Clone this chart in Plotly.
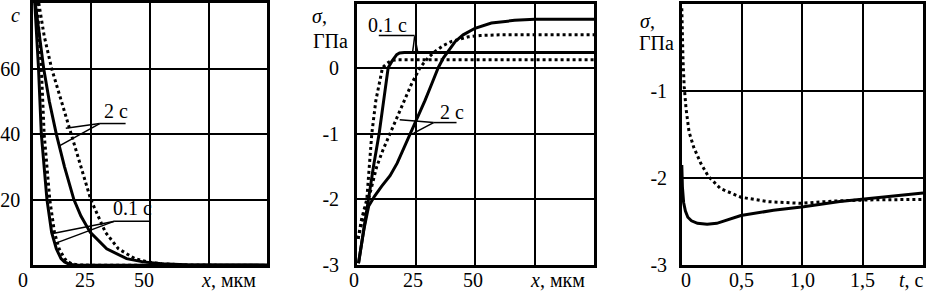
import plotly.graph_objects as go

W, H = 931, 302

# ---------------- data ----------------
# Left panel: concentration c vs depth x (мкм)
c01_solid_x = [0.8, 1.6, 2.4, 3.6, 6.0, 8.0, 10.0, 12.0, 13.5, 15.5, 18.0, 22.0, 100.0]
c01_solid_y = [80, 70, 60, 40, 20, 10, 5, 2, 1, 0.3, 0.05, 0, 0]
c01_dot_x = [1.8, 2.8, 3.6, 4.8, 7.2, 9.2, 11.2, 13.5, 15.0, 17.0, 20.0, 24.0, 100.0]
c01_dot_y = [80, 70, 60, 40, 20, 10, 5, 2, 1, 0.3, 0.05, 0, 0]
c2_solid_x = [1.0, 2.8, 4.6, 7.0, 10.0, 13.5, 17.5, 20.5, 24.5, 31.5, 40.0, 47.0, 55.0, 65.0, 80.0, 100.0]
c2_solid_y = [80, 70, 60, 50, 40, 30, 20, 15, 10, 5, 2, 1, 0.4, 0.1, 0, 0]
c2_dot_x = [2.5, 4.8, 8.0, 12.2, 16.5, 20.5, 24.7, 31.0, 36.5, 43.5, 49.0, 55.0, 65.0, 80.0, 100.0]
c2_dot_y = [80, 70, 60, 50, 40, 30, 20, 10, 5, 2, 1, 0.4, 0.1, 0, 0]

# Middle panel: stress sigma (ГПа) vs depth x (мкм)
s01_solid_x = [0.7, 3.0, 4.9, 7.0, 9.4, 11.3, 13.2, 14.8, 15.8, 16.8, 18.0, 20.0, 100.0]
s01_solid_y = [-2.97, -2.4, -2.0, -1.5, -1.0, -0.5, 0.0, 0.1, 0.16, 0.2, 0.225, 0.23, 0.23]
s01_dot_x = [0.5, 2.0, 4.2, 5.3, 6.3, 8.0, 10.8, 12.8, 14.5, 16.5, 19.0, 100.0]
s01_dot_y = [-2.6, -2.3, -2.0, -1.5, -1.0, -0.5, 0.0, 0.07, 0.11, 0.12, 0.12, 0.12]
s2_solid_x = [0.7, 3.0, 5.0, 7.5, 10.5, 14.0, 17.0, 19.5, 22.4, 25.5, 28.7, 31.5, 34.3, 36.5,
              38.5, 41.5, 44.8, 49.8, 56.7, 66.5, 75.0, 100.0]
s2_solid_y = [-2.97, -2.45, -2.1, -1.95, -1.8, -1.64, -1.45, -1.25, -1.0, -0.75, -0.5, -0.25, 0.0, 0.15,
              0.25, 0.4, 0.5, 0.6, 0.68, 0.72, 0.735, 0.735]
s2_dot_x = [0.5, 2.0, 3.5, 4.9, 6.5, 8.4, 11.0, 14.0, 17.0, 19.7, 23.0, 26.6, 30.0, 33.0,
            36.5, 40.0, 43.5, 47.0, 52.0, 60.0, 100.0]
s2_dot_y = [-2.6, -2.35, -2.15, -2.0, -1.75, -1.5, -1.25, -1.0, -0.75, -0.5, -0.25, 0.0, 0.15, 0.25,
            0.34, 0.4, 0.44, 0.47, 0.49, 0.5, 0.5]

# Right panel: stress sigma (ГПа) vs time t (c)
t_solid = [0, 0.005, 0.015, 0.03, 0.05, 0.08, 0.13, 0.21, 0.29, 0.41, 0.49, 0.76, 1.01, 1.31, 1.59, 2.0]
st_solid = [-1.85, -2.1, -2.28, -2.38, -2.45, -2.49, -2.52, -2.53, -2.52, -2.47, -2.43, -2.37,
            -2.33, -2.27, -2.23, -2.17]
t_dot = [0, 0.003, 0.01, 0.02, 0.035, 0.06, 0.10, 0.157, 0.22, 0.32, 0.49, 0.71, 0.98, 1.31, 1.59, 2.0]
st_dot = [-0.05, -0.4, -0.65, -0.95, -1.2, -1.47, -1.65, -1.83, -1.98, -2.12, -2.22, -2.27,
          -2.29, -2.26, -2.25, -2.245]

# tick values / labels
left_xgrid = [25, 50, 75]
left_xticks = [0, 25, 50]
left_xtext = ["0", "25", "50"]
left_yticks = [20, 40, 60]
left_ytext = ["20", "40", "60"]
mid_xgrid = [25, 50, 75]
mid_xticks = [0, 25, 50]
mid_xtext = ["0", "25", "50"]
mid_yticks = [-3, -2, -1, 0]
mid_ytext = ["-3", "-2", "-1", "0"]
right_xgrid = [0.5, 1.0, 1.5]
right_xticks = [0, 0.5, 1.0, 1.5]
right_xtext = ["0", "0,5", "1,0", "1,5"]
right_yticks = [-3, -2, -1]
right_ytext = ["-3", "-2", "-1"]

# ---------------- figure ----------------
FONT = "Liberation Serif, Times New Roman, serif"
fig = go.Figure()

def px2x(px):
    return px / W

def py2y(py):
    return 1 - py / H

solid = dict(color="black", width=3)
dotted = dict(color="black", width=3, dash="dot")

fig.add_trace(go.Scatter(x=c2_dot_x, y=c2_dot_y, mode="lines", line=dotted, xaxis="x", yaxis="y"))
fig.add_trace(go.Scatter(x=c2_solid_x, y=c2_solid_y, mode="lines", line=solid, xaxis="x", yaxis="y"))
fig.add_trace(go.Scatter(x=c01_dot_x, y=c01_dot_y, mode="lines", line=dotted, xaxis="x", yaxis="y"))
fig.add_trace(go.Scatter(x=c01_solid_x, y=c01_solid_y, mode="lines", line=solid, xaxis="x", yaxis="y"))

fig.add_trace(go.Scatter(x=s01_dot_x, y=s01_dot_y, mode="lines", line=dotted, xaxis="x2", yaxis="y2"))
fig.add_trace(go.Scatter(x=s01_solid_x, y=s01_solid_y, mode="lines", line=solid, xaxis="x2", yaxis="y2"))
fig.add_trace(go.Scatter(x=s2_dot_x, y=s2_dot_y, mode="lines", line=dotted, xaxis="x2", yaxis="y2"))
fig.add_trace(go.Scatter(x=s2_solid_x, y=s2_solid_y, mode="lines", line=solid, xaxis="x2", yaxis="y2"))

fig.add_trace(go.Scatter(x=t_dot, y=st_dot, mode="lines", line=dotted, xaxis="x3", yaxis="y3"))
fig.add_trace(go.Scatter(x=t_solid, y=st_solid, mode="lines", line=solid, xaxis="x3", yaxis="y3"))

tickfont = dict(family=FONT, size=20, color="black")

def ax(domain, rng, tv, tt=None, standoff=None, labels=True):
    d = dict(domain=domain, range=rng, tickvals=tv, showgrid=True,
             gridcolor="black", gridwidth=1.5, zeroline=False, showline=True, linecolor="black",
             linewidth=2.5, mirror=True, ticks="", tickfont=tickfont, fixedrange=True,
             showticklabels=labels)
    if tt is not None:
        d["ticktext"] = tt
    if standoff is not None:
        d["ticklabelstandoff"] = standoff
    return d

bottom = py2y(275)
fig.update_layout(
    width=W, height=H, margin=dict(l=0, r=0, t=0, b=0),
    font=dict(family=FONT, color="black"),
    paper_bgcolor="white", plot_bgcolor="white", showlegend=False,
    xaxis=dict(ax([px2x(30), px2x(265)], [0, 100], left_xgrid, labels=False), anchor="y"),
    yaxis=dict(ax([bottom, py2y(1)], [0, 80], left_yticks, left_ytext, 6), anchor="x"),
    xaxis2=dict(ax([px2x(355), px2x(593)], [0, 100], mid_xgrid, labels=False), anchor="y2"),
    yaxis2=dict(ax([bottom, py2y(2)], [-3, 0.97], mid_yticks, mid_ytext, 11), anchor="x2"),
    xaxis3=dict(ax([px2x(681), px2x(923)], [0, 2], right_xgrid, labels=False), anchor="y3"),
    yaxis3=dict(ax([bottom, py2y(2)], [-3, 0], right_yticks, right_ytext, 8), anchor="x3"),
)

# x tick labels placed on the axes' own scales
XLAB_Y = py2y(291)
for axname, vals, texts, shifts in [
    ("x", left_xticks, left_xtext, [-10, -6, -6]),
    ("x2", mid_xticks, mid_xtext, [-3, -3, -2]),
    ("x3", right_xticks, right_xtext, [4, -1, 0, 0]),
]:
    for v, t, s in zip(vals, texts, shifts):
        fig.add_annotation(text=t, x=v, xref=axname, y=XLAB_Y, yref="paper", xshift=s,
                           showarrow=False, font=tickfont, xanchor="center", yanchor="middle")

def label(text, px, py, size=20, xanchor="center"):
    fig.add_annotation(text=text, x=px2x(px), y=py2y(py), xref="paper", yref="paper",
                       showarrow=False, font=dict(family=FONT, size=size, color="black"),
                       xanchor=xanchor, yanchor="middle")

def seg(p0, p1):
    fig.add_shape(type="line", xref="paper", yref="paper",
                  x0=px2x(p0[0]), y0=py2y(p0[1]), x1=px2x(p1[0]), y1=py2y(p1[1]),
                  line=dict(color="black", width=1.5))

# axis titles
label("<i>c</i>", 13, 14)
label("<i>x</i>, мкм", 226, 291)
label("<i>σ</i>,", 318, 15)
label("ГПа", 329, 41)
label("<i>x</i>, мкм", 556, 291)
label("<i>σ</i>,", 647, 20)
label("ГПа", 656, 43)
label("<i>t</i>, c", 911, 291)

# left panel callouts
label("2 c", 113, 114)
seg((97, 127), (123, 127))
seg((97, 127), (63, 132))
seg((97, 127), (57, 150))
label("0.1 c", 130, 215)
seg((112, 229), (148, 229))
seg((112, 229), (50, 242))
seg((112, 229), (53, 252))

# middle panel callouts
label("0.1 c", 386, 24)
seg((377, 35), (413, 35))
seg((413, 36), (411, 52))
seg((413, 36), (416, 52))
label("2 c", 450, 115)
seg((432, 126), (455, 126))
seg((432, 126), (398, 123))
seg((432, 126), (412, 137))

fig.write_html(
    "out.html",
    config={"displayModeBar": False},
    post_script="document.body.style.margin='0';document.body.style.overflow='hidden';",
)
